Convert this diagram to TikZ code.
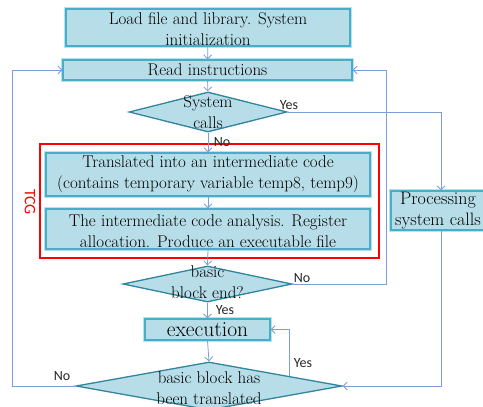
\documentclass[tikz,border=0pt]{standalone}
\usepackage{fontspec}
\newfontfamily\lblfont{Carlito}
\usetikzlibrary{shapes.geometric,arrows.meta,calc}
\definecolor{boxfill}{HTML}{B7DDE8}
\definecolor{boxline}{HTML}{4BACC6}
\definecolor{glowc}{HTML}{B0E6F4}
\definecolor{dline}{HTML}{31859C}
\definecolor{connc}{HTML}{7B9FD6}
\definecolor{txt}{HTML}{000000}
\begin{document}
\begin{tikzpicture}[x=1pt,y=-1pt,
 box/.style={rectangle, fill=boxfill, draw=boxline, line width=1.3pt, preaction={draw=glowc, line width=4pt}, inner sep=0pt, align=center, text=txt, font=\fontsize{17}{21}\selectfont},
 dia/.style={diamond, fill=boxfill, draw=dline, line width=1.3pt, inner sep=0pt},
 dtext/.style={align=center, text=txt, font=\fontsize{17}{21}\selectfont, inner sep=0pt},
 conn/.style={draw=connc, line width=0.8pt, -{Straight Barb[length=4pt,width=8pt]}},
 lbl/.style={font=\lblfont\fontsize{14}{14}\selectfont, text=black!85, inner sep=0pt},
]
\useasboundingbox (0,0) rectangle (483,407);
\fill[white] (0,0) rectangle (483,407);

\node[box, minimum width=284pt, minimum height=37pt] (load) at (208,27.5) {};
\node[dtext] (loadtext) at (208,29) {Load file and library. System\\initialization};
\node[box, minimum width=289pt, minimum height=20pt] (read) at (207.5,70) {Read instructions};
\node[dia, minimum width=158pt, minimum height=40pt] (sys) at (208,112) {};
\node[dtext] (systext) at (208,112) {System\\calls};

\node[draw=red, line width=1.4pt, minimum width=339pt, minimum height=114pt, inner sep=0pt] (tcg) at (209.5,201) {};
\node[rotate=-90, text=red, font=\lblfont\fontsize{16}{16}\selectfont, inner sep=0pt] (tcglbl) at (30,202) {TCG};

\node[box, minimum width=324pt, minimum height=43pt] (trans) at (208,174.5) {Translated into an intermediate code\\(contains temporary variable temp8, temp9)};
\node[box, minimum width=324pt, minimum height=40pt] (anal) at (208,229) {};
\node[dtext] (analtext) at (208,231) {The intermediate code analysis. Register\\allocation. Produce an executable file};

\node[box, minimum width=100pt, minimum height=39pt] (proc) at (441,210.5) {};
\node[dtext, font=\fontsize{18}{21}\selectfont] (proctext) at (438,211) {Processing\\system calls};

\node[dia, minimum width=169pt, minimum height=36pt] (bbe) at (207.5,284) {};
\node[dtext] (bbetext) at (207.5,282.5) {basic\\block end?};

\node[box, minimum width=125pt, minimum height=21pt, font=\fontsize{21.5}{22}\selectfont] (exec) at (207.5,329.5) {execution};

\node[dia, minimum width=266pt, minimum height=48pt] (bbt) at (209,386) {};
\node[dtext] (bbttext) at (209,388) {basic block has\\been translated};

\coordinate (rloop) at (386,70);
\coordinate (lloop) at (12,70);
\coordinate (ytop) at ($(bbt.north)!0.6!(bbt.east)$);

\draw[conn] (load) -- (read);
\draw[conn] (read) -- (sys);
\draw[conn] (sys.south) -- (trans.north);
\draw[conn] (trans) -- (anal);
\draw[conn] (anal.south) -- (bbe.north);
\draw[conn] (bbe.south) -- (exec.north);
\draw[conn] (exec.south) -- (bbt.north);
\draw[conn] (sys.east) -| (proc.north);
\draw[conn] (proc.south) |- (bbt.east);
\draw[conn] (bbe.east) -| (rloop) -- (read.east);
\draw[conn] (bbt.west) -| (lloop) -- (read.west);
\draw[conn] (ytop) |- (exec.east);

\node[lbl] (l1) at (289,105) {Yes};
\node[lbl] (l2) at (222,142) {No};
\node[lbl] (l3) at (302,278) {No};
\node[lbl] (l4) at (225,310) {Yes};
\node[lbl] (l5) at (303,363) {Yes};
\node[lbl] (l6) at (62,376) {No};
\end{tikzpicture}
\end{document}
